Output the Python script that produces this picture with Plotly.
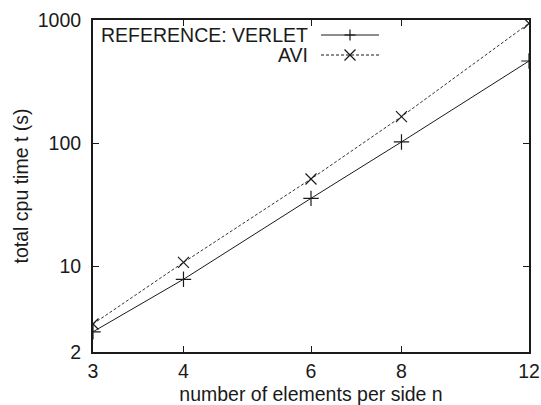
import plotly.graph_objects as go

# Mesh resolution (elements per side) and total CPU time in seconds
n_side = [3, 4, 6, 8, 12]
t_verlet = [2.92, 7.8, 35.5, 102, 464]
t_avi = [3.38, 10.7, 51, 164, 940]

x_ticks = [3, 4, 6, 8, 12]
y_ticks = [2, 10, 100, 1000]

FONT = "Liberation Sans, Arial, Helvetica, sans-serif"
FS = 19.5
INK = "#1a1a1a"

fig = go.Figure()
fig.add_trace(go.Scatter(
    x=n_side, y=t_verlet, mode="lines+markers", name="REFERENCE: VERLET",
    line=dict(color=INK, width=1),
    marker=dict(symbol="cross-thin", size=11, line=dict(color=INK, width=1.2)),
))
fig.add_trace(go.Scatter(
    x=n_side, y=t_avi, mode="lines+markers", name="AVI",
    line=dict(color="#333333", width=1, dash="3px,2px"),
    marker=dict(symbol="x-thin", size=11, line=dict(color=INK, width=1.2)),
))

# Gnuplot-style key: right-aligned label followed by a line sample
L, R, T, B = 93, 529, 20, 352
W, H = R - L, B - T
def px(x):
    return (x - L) / W
def py(y):
    return (B - y) / H

shapes = []
annotations = []
key = [("REFERENCE: VERLET", 35, "solid", "plus"), ("AVI", 55, "dash", "x")]
for label, yk, dash, sym in key:
    annotations.append(dict(
        text=label, x=px(310), y=py(yk), xref="paper", yref="paper",
        xanchor="right", yanchor="middle", showarrow=False,
        font=dict(family=FONT, size=FS, color=INK),
    ))
    shapes.append(dict(
        type="line", xref="paper", yref="paper",
        x0=px(321), x1=px(379), y0=py(yk), y1=py(yk),
        line=dict(color=INK, width=1, dash="3px,2px" if dash == "dash" else "solid"),
    ))
    hx, hy = 5.5, 5.5
    cx = 350
    if sym == "plus":
        segs = [((cx - hx, yk), (cx + hx, yk)), ((cx, yk - hy), (cx, yk + hy))]
    else:
        segs = [((cx - hx, yk - hy), (cx + hx, yk + hy)), ((cx - hx, yk + hy), (cx + hx, yk - hy))]
    for (a, b) in segs:
        shapes.append(dict(
            type="line", xref="paper", yref="paper",
            x0=px(a[0]), y0=py(a[1]), x1=px(b[0]), y1=py(b[1]),
            line=dict(color=INK, width=1.2),
        ))

axis_common = dict(
    showgrid=False, zeroline=False, showline=True, linecolor=INK, linewidth=2,
    mirror="ticks", ticks="inside", ticklen=6, tickwidth=1, tickcolor=INK,
    tickfont=dict(family=FONT, size=FS, color=INK),
    title_font=dict(family=FONT, size=FS, color=INK),
    automargin=False,
)

fig.update_layout(
    width=541, height=405,
    margin=dict(l=L, r=541 - R, t=T, b=405 - B),
    paper_bgcolor="white", plot_bgcolor="white",
    showlegend=False,
    shapes=shapes, annotations=annotations,
    xaxis=dict(
        type="log", range=[0.47712, 1.07918],
        tickvals=x_ticks, ticktext=[str(v) for v in x_ticks],
        title=dict(text="number of elements per side n", standoff=6),
        ticklabelstandoff=1,
        **axis_common,
    ),
    yaxis=dict(
        type="log", range=[0.30103, 3],
        tickvals=y_ticks, ticktext=[str(v) for v in y_ticks],
        title=dict(text="total cpu time t (s)", standoff=4),
        ticklabelstandoff=6,
        **axis_common,
    ),
)

fig.write_html("out.html")
